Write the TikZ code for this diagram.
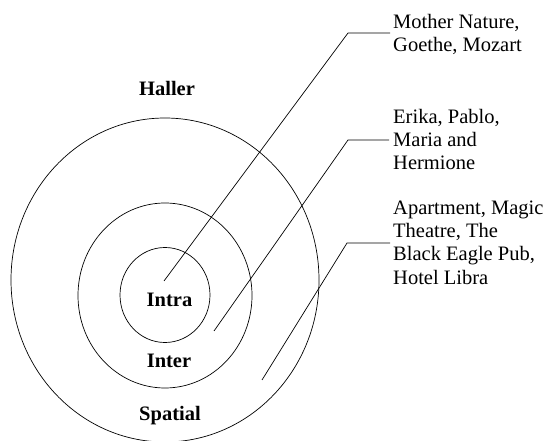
\documentclass[tikz,border=0pt]{standalone}
\usepackage{fontspec}
\setmainfont{Liberation Serif}
\usepackage{tikz}
\usetikzlibrary{positioning,calc}
\tikzset{
  ring/.style={line width=0.7pt},
  lead/.style={line width=0.7pt},
  lbl/.style={font=\fontsize{20.5}{24}\selectfont\bfseries,inner sep=0pt,anchor=base},
  note/.style={font=\fontsize{20.5}{23.3}\selectfont,align=left,inner sep=0pt,anchor=base west},
}

\begin{document}
\begin{tikzpicture}[x=1pt,y=-1pt]
  \useasboundingbox (0,0) rectangle (547,441);
  % nested rings
  \draw[ring] (165,280) ellipse [x radius=154,y radius=162];
  \draw[ring] (165,295.5) ellipse [x radius=87,y radius=92.5];
  \draw[ring] (165,295) ellipse [x radius=45,y radius=47.5];
  % ring names
  \node[lbl] (haller) at (167,96) {Haller};
  \node[lbl] (intra) at (169.5,306) {Intra};
  \node[lbl] (inter) at (169,367.5) {Inter};
  \node[lbl] (spatial) at (170,420) {Spatial};
  % notes on the right (anchored at the last line)
  \node[note] (nat) at (393,52) {Mother Nature,\\Goethe, Mozart};
  \node[note] (ppl) at (393,170) {Erika, Pablo,\\Maria and\\Hermione};
  \node[note] (plc) at (393,284) {Apartment, Magic\\Theatre, The\\Black Eagle Pub,\\Hotel Libra};
  % leader lines
  \coordinate (s1) at (164,281); \coordinate (k1) at (348,33);  \coordinate (e1) at (390,33);
  \coordinate (s2) at (214,331); \coordinate (k2) at (348,140); \coordinate (e2) at (389,140);
  \coordinate (s3) at (262,380); \coordinate (k3) at (347,243); \coordinate (e3) at (390,243);
  \draw[lead] (s1) -- (k1) -- (e1);
  \draw[lead] (s2) -- (k2) -- (e2);
  \draw[lead] (s3) -- (k3) -- (e3);
\end{tikzpicture}
\end{document}
